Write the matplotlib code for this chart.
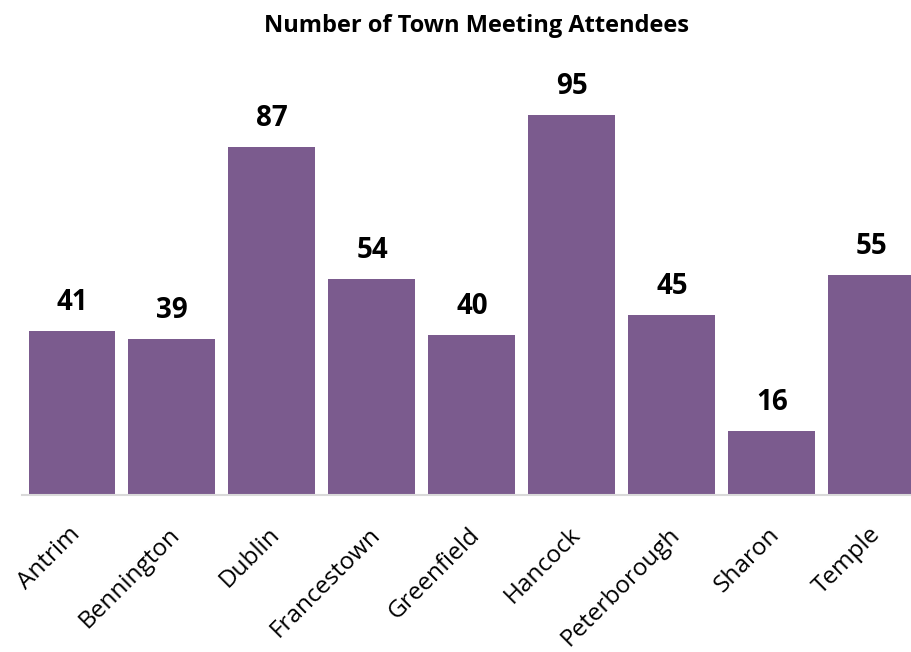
import matplotlib.pyplot as plt
from matplotlib.transforms import ScaledTranslation

towns = ['Antrim', 'Bennington', 'Dublin', 'Francestown', 'Greenfield',
         'Hancock', 'Peterborough', 'Sharon', 'Temple']
attendees = [41, 39, 87, 54, 40, 95, 45, 16, 55]

bar_color = '#7b5b8e'

plt.rcParams['font.family'] = ['Open Sans', 'DejaVu Sans']

fig = plt.figure(figsize=(9.12, 6.52), dpi=100)
# axes runs off the right edge so the last bar gets cut like the original
ax = fig.add_axes([22 / 912, (652 - 495) / 652, 900 / 912, 400 / 652])

x = list(range(len(towns)))
bars = ax.bar(x, attendees, width=0.87, color=bar_color, zorder=2)

for xi, v in zip(x, attendees):
    ax.text(xi, v + 3.5, str(v), ha='center', va='bottom',
            fontsize=20, fontweight='bold', color='black')

ax.set_xlim(-0.5, 8.5)
ax.set_ylim(0, 100)
ax.set_xticks(x)
ax.set_xticklabels(towns, rotation=45, ha='right', va='top',
                   rotation_mode='anchor', fontsize=17.5)
ax.tick_params(axis='x', length=0, pad=20)
# small horizontal nudge for the slanted labels
shift = ScaledTranslation(-4 / 100, 0, fig.dpi_scale_trans)
for lbl in ax.get_xticklabels():
    lbl.set_transform(lbl.get_transform() + shift)
ax.set_yticks([])
for side in ['top', 'right', 'left']:
    ax.spines[side].set_visible(False)
ax.spines['bottom'].set_color('#d9d9d9')
ax.spines['bottom'].set_linewidth(1.5)

fig.text(477 / 912, 1 - 26 / 652, 'Number of Town Meeting Attendees',
         ha='center', va='center', fontsize=17, fontweight='bold')

fig.savefig('out.png', dpi=100)
